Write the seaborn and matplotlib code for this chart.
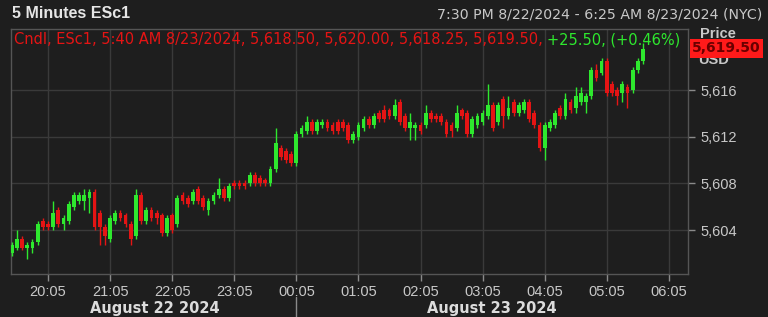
import numpy as np
import pandas as pd
import matplotlib
matplotlib.use("Agg")
import matplotlib.pyplot as plt
from matplotlib.lines import Line2D
import seaborn as sns

# ---- data: 5-minute candles ESc1, 19:30 8/22 .. 05:40 8/23 ----
opens = [5602.0, 5602.5, 5603.25, 5602.5, 5602.5, 5603.0, 5604.75, 5604.5, 5604.25, 5605.75,
         5604.5, 5604.75, 5606.0, 5606.5, 5606.5, 5606.75, 5607.25, 5605.5, 5604.25, 5603.25,
         5604.75, 5605.5, 5605.25, 5604.5, 5603.5, 5607.0, 5604.75, 5605.75, 5605.5, 5605.25,
         5603.75, 5605.25, 5604.5, 5607.0, 5606.75, 5606.5, 5607.5, 5606.75, 5605.75, 5606.5,
         5607.0, 5607.5, 5606.75, 5608.0, 5608.0, 5608.0, 5608.0, 5608.75, 5608.5, 5608.25,
         5608.0, 5609.25, 5611.0, 5610.75, 5610.5, 5609.75, 5612.25, 5612.5, 5613.25, 5612.5,
         5613.0, 5613.25, 5613.0, 5613.25, 5613.25, 5613.0, 5611.75, 5612.0, 5612.75, 5613.5,
         5613.0, 5614.0, 5614.25, 5614.25, 5613.75, 5615.0, 5613.75, 5612.75, 5612.75, 5613.0,
         5613.0, 5614.0, 5613.75, 5613.75, 5613.25, 5613.0, 5612.75, 5614.25, 5614.0, 5612.25,
         5613.0, 5613.25, 5613.75, 5614.75, 5613.25, 5615.25, 5613.75, 5615.0, 5614.0, 5614.25,
         5615.0, 5614.0, 5613.0, 5611.0, 5612.75, 5613.0, 5614.5, 5613.75, 5615.0, 5614.5,
         5615.0, 5615.0, 5615.5, 5617.75, 5617.5, 5618.5, 5616.5, 5616.0, 5615.75, 5616.25,
         5616.0, 5617.75, 5618.5]
highs = [5603.0, 5604.0, 5603.5, 5603.0, 5603.25, 5604.75, 5605.0, 5604.75, 5606.5, 5606.0,
         5605.25, 5606.5, 5607.25, 5607.25, 5607.5, 5607.5, 5607.5, 5605.75, 5604.5, 5605.25,
         5605.75, 5605.75, 5605.5, 5604.75, 5607.5, 5607.25, 5606.0, 5606.0, 5605.75, 5605.5,
         5605.25, 5605.5, 5607.0, 5607.25, 5607.0, 5607.5, 5607.75, 5607.0, 5606.75, 5607.25,
         5608.5, 5607.75, 5608.0, 5608.25, 5608.25, 5608.25, 5609.0, 5609.0, 5608.75, 5608.5,
         5609.5, 5612.75, 5611.25, 5611.0, 5610.75, 5612.5, 5613.0, 5613.75, 5613.5, 5613.5,
         5613.5, 5613.5, 5613.25, 5613.5, 5613.5, 5613.25, 5612.5, 5613.25, 5613.75, 5613.75,
         5614.0, 5614.25, 5614.75, 5614.5, 5615.25, 5615.25, 5614.0, 5614.0, 5613.25, 5613.25,
         5614.75, 5614.25, 5614.0, 5614.0, 5613.5, 5613.25, 5614.75, 5614.5, 5614.25, 5613.75,
         5614.0, 5614.25, 5616.5, 5615.0, 5615.0, 5615.5, 5615.5, 5615.25, 5615.0, 5615.25,
         5615.25, 5614.25, 5613.25, 5613.25, 5613.5, 5614.25, 5614.75, 5615.75, 5615.25, 5616.25,
         5616.25, 5615.75, 5618.0, 5618.25, 5618.75, 5618.75, 5616.75, 5616.25, 5616.75, 5616.5,
         5618.0, 5618.75, 5620.0]
lows = [5601.75, 5602.25, 5602.25, 5601.5, 5602.0, 5602.75, 5604.0, 5604.0, 5604.0, 5604.25,
        5604.0, 5604.5, 5605.75, 5606.25, 5605.75, 5605.5, 5604.0, 5602.75, 5602.75, 5603.0,
        5604.5, 5604.75, 5604.25, 5602.75, 5603.25, 5604.5, 5604.5, 5604.75, 5604.5, 5603.5,
        5603.5, 5603.75, 5604.25, 5606.25, 5606.0, 5606.25, 5606.25, 5605.75, 5605.25, 5606.25,
        5606.75, 5606.5, 5606.5, 5607.5, 5607.5, 5607.5, 5607.75, 5607.75, 5607.75, 5607.75,
        5607.75, 5609.0, 5610.0, 5609.75, 5609.5, 5609.5, 5612.0, 5612.25, 5612.25, 5612.25,
        5612.75, 5612.5, 5612.25, 5612.25, 5612.5, 5611.5, 5611.5, 5611.75, 5612.5, 5612.75,
        5612.75, 5613.25, 5613.25, 5613.5, 5613.5, 5613.0, 5612.5, 5611.75, 5611.75, 5612.25,
        5612.75, 5613.25, 5613.25, 5613.0, 5612.0, 5612.0, 5612.5, 5613.5, 5612.0, 5612.0,
        5612.75, 5613.0, 5613.5, 5612.5, 5613.0, 5612.75, 5613.5, 5613.75, 5613.75, 5614.0,
        5613.25, 5612.75, 5610.75, 5610.0, 5612.5, 5612.75, 5613.5, 5613.5, 5614.0, 5614.0,
        5614.75, 5614.0, 5615.25, 5616.75, 5617.25, 5615.5, 5615.5, 5614.75, 5615.0, 5614.5,
        5615.75, 5617.5, 5618.25]
closes = [5602.75, 5603.25, 5602.5, 5602.75, 5603.0, 5604.5, 5604.25, 5604.25, 5605.5, 5604.5,
          5605.0, 5606.25, 5607.0, 5607.0, 5607.0, 5607.25, 5604.25, 5604.25, 5603.5, 5605.0,
          5605.5, 5605.0, 5604.5, 5603.25, 5607.0, 5604.75, 5605.75, 5605.0, 5605.0, 5603.75,
          5605.0, 5604.0, 5606.75, 5606.5, 5606.25, 5607.25, 5606.5, 5606.0, 5606.5, 5607.0,
          5607.5, 5606.75, 5607.75, 5607.75, 5607.75, 5607.75, 5608.75, 5608.0, 5608.0, 5608.0,
          5609.25, 5611.5, 5610.25, 5610.0, 5609.75, 5612.25, 5612.75, 5613.25, 5612.5, 5613.25,
          5613.25, 5612.75, 5612.5, 5612.5, 5612.75, 5611.75, 5612.25, 5613.0, 5613.5, 5613.0,
          5613.75, 5613.5, 5613.5, 5613.75, 5614.75, 5613.25, 5612.75, 5613.25, 5613.0, 5612.5,
          5614.0, 5613.5, 5613.5, 5613.25, 5612.25, 5612.5, 5614.0, 5613.75, 5612.25, 5613.5,
          5613.75, 5614.0, 5614.75, 5612.75, 5614.75, 5613.75, 5614.5, 5614.0, 5614.75, 5615.0,
          5613.5, 5613.0, 5611.0, 5613.0, 5613.25, 5614.0, 5613.75, 5615.25, 5614.25, 5615.5,
          5615.75, 5615.5, 5617.75, 5617.0, 5618.5, 5615.75, 5615.75, 5615.5, 5616.5, 5615.75,
          5617.75, 5618.5, 5619.5]

x_tick_labels = ["20:05", "21:05", "22:05", "23:05", "00:05", "01:05",
                 "02:05", "03:05", "04:05", "05:05", "06:05"]
y_ticks = [5604, 5608, 5612, 5616]
date_labels = ["August 22 2024", "August 23 2024"]
title = "5 Minutes ESc1"
range_label = "7:30 PM 8/22/2024 - 6:25 AM 8/23/2024 (NYC)"
legend_red = "Cndl, ESc1, 5:40 AM 8/23/2024, 5,618.50, 5,620.00, 5,618.25, 5,619.50, "
legend_green = "+25.50, (+0.46%)"
last_price = "5,619.50"

BG = "#1e1e1e"
GREEN = "#2ee82e"
RED = "#e51414"
GRID = "#3a3a3a"
FRAME = "#555555"
TXT = "#c8c8c8"
WIDE = ["DejaVu Sans"]

sns.set_theme(style="dark", rc={"axes.facecolor": BG, "figure.facecolor": BG,
                                "axes.edgecolor": FRAME, "grid.color": GRID})
plt.rcParams["font.family"] = ["Liberation Sans", "DejaVu Sans"]

df = pd.DataFrame({"open": opens, "high": highs, "low": lows, "close": closes})
df["idx"] = np.arange(len(df))
df["up"] = df["close"] >= df["open"]
df["bottom"] = df[["open", "close"]].min(axis=1)
df["height"] = (df["close"] - df["open"]).abs().clip(lower=0.08)

W, H = 768, 317
fig = plt.figure(figsize=(W / 100, H / 100), dpi=100)
L, R, T, B = 11, 688, 29, 274
ax = fig.add_axes([L / W, 1 - B / H, (R - L) / W, (B - T) / H])
ax.set_facecolor(BG)

for up, col in [(True, GREEN), (False, RED)]:
    sub = df[df["up"] == up]
    ax.vlines(sub["idx"], sub["low"], sub["high"], color=col, lw=1.0, zorder=3)
    ax.bar(sub["idx"], sub["height"], bottom=sub["bottom"], width=0.72,
           color=col, linewidth=0, zorder=4)

ax.set_xlim(-0.15, 130.7)
ax.set_ylim(5600.23, 5621.23)
xt = [7 + 12 * k for k in range(len(x_tick_labels))]
ax.set_xticks(xt)
ax.set_xticklabels(x_tick_labels)
ax.set_yticks(y_ticks)
ax.set_yticklabels([f"{v:,}" for v in y_ticks])
ax.yaxis.tick_right()
ax.grid(True, color=GRID, lw=1.0, zorder=0)
ax.tick_params(axis="x", colors="#8a8a8a", labelcolor=TXT, length=5, width=1,
               direction="out", pad=3, labelsize=10.5, bottom=True)
ax.tick_params(axis="y", colors="#8a8a8a", labelcolor=TXT, length=5, width=1,
               direction="out", pad=4, labelsize=10.5, right=True, left=False)
for s in ax.spines.values():
    s.set_visible(True)
    s.set_color(FRAME)
    s.set_linewidth(1.0)

def fx(x):
    return x / W

def fy(y):
    return 1 - y / H

fig.text(fx(12), fy(13), title, color="#e6e6e6", fontsize=11.5, fontweight="bold",
         va="center", ha="left")
fig.text(fx(762), fy(14), range_label, color=TXT, fontsize=10.2, va="center", ha="right",
         family=WIDE)

t1 = fig.text(fx(14), fy(40), legend_red, color=RED, fontsize=10.5, va="center", ha="left",
              family=WIDE)
ax.annotate(legend_green, xy=(1, 0.5), xycoords=t1, va="center", ha="left",
            color=GREEN, fontsize=10.5, annotation_clip=False, family=WIDE)

fig.text(fx(718), fy(34), "Price", color=TXT, fontsize=10.5, fontweight="bold",
         va="center", ha="center")
fig.text(fx(714), fy(60.5), "USD", color=TXT, fontsize=10.5, fontweight="bold",
         va="center", ha="center")
fig.text(fx(692), fy(48.5), last_price, color="#6a0000", fontsize=10, fontweight="bold",
         va="center", ha="left", family=WIDE,
         bbox=dict(boxstyle="square,pad=0.15", fc="#ff1a1a", ec="none"))

fig.text(fx(155), fy(309), date_labels[0], color="#dcdcdc", fontsize=10.5,
         fontweight="bold", va="center", ha="center", family=WIDE)
fig.text(fx(492), fy(309), date_labels[1], color="#dcdcdc", fontsize=10.5,
         fontweight="bold", va="center", ha="center", family=WIDE)
fig.add_artist(Line2D([fx(296), fx(296)], [fy(297), fy(317)], color="#8a8a8a", lw=1,
                      transform=fig.transFigure))

fig.savefig("out.png", dpi=100, facecolor=BG)
